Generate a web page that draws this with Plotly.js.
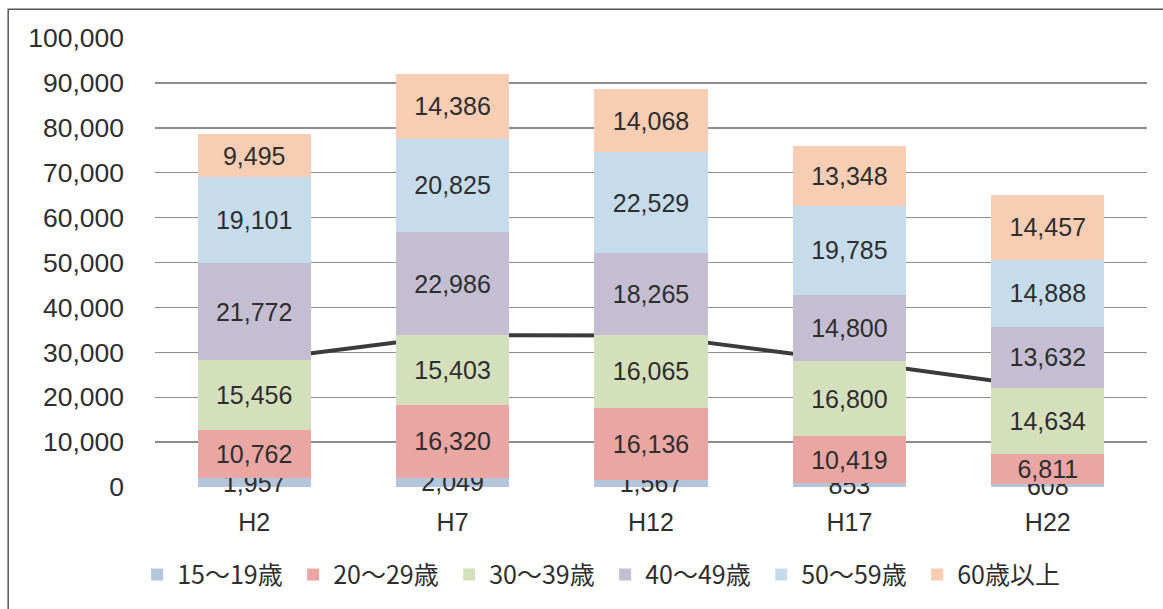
<!DOCTYPE html>
<html>
<head>
<meta charset="utf-8">
<script src="https://cdn.plot.ly/plotly-3.0.1.min.js"></script>
<style>html,body{margin:0;padding:0;background:#fff;}#chart{width:1163px;height:609px;}</style>
</head>
<body>
<div id="chart"></div>
<script>
const categories = ["H2", "H7", "H12", "H17", "H22"];
const seriesNames = ["15～19歳", "20～29歳", "30～39歳", "40～49歳", "50～59歳", "60歳以上"];
const age15_19 = [1957, 2049, 1567, 853, 608];
const age20_29 = [10762, 16320, 16136, 10419, 6811];
const age30_39 = [15456, 15403, 16065, 16800, 14634];
const age40_49 = [21772, 22986, 18265, 14800, 13632];
const age50_59 = [19101, 20825, 22529, 19785, 14888];
const age60up = [9495, 14386, 14068, 13348, 14457];
const seriesColors = ["#b3c6dc", "#e9a6a3", "#d4dfbb", "#c5bdd1", "#c6dcea", "#f7cdb4"];
const yTickVals = [0, 10000, 20000, 30000, 40000, 50000, 60000, 70000, 80000, 90000, 100000];

const seriesValues = [age15_19, age20_29, age30_39, age40_49, age50_59, age60up];
// cumulative 15-39 line (top of the 30-39 segment), drawn behind the bars
const under40 = categories.map((c, i) => age15_19[i] + age20_29[i] + age30_39[i]);

const labelFont = {family: "Liberation Sans, Arial, sans-serif", size: 25, color: "#2e2e2e"};

const traces = [{
  type: "scatter", mode: "lines", x: categories, y: under40, xaxis: "x", yaxis: "y",
  line: {color: "#3b3b3b", width: 4}, showlegend: false, hoverinfo: "skip"
}];
seriesValues.forEach((vals, k) => {
  traces.push({
    type: "bar", name: seriesNames[k], x: categories, y: vals, xaxis: "x2", yaxis: "y2",
    marker: {color: seriesColors[k], line: {width: 0}},
    texttemplate: "%{y:,}", textposition: "inside", insidetextanchor: "middle",
    constraintext: "none", textangle: 0, cliponaxis: false,
    textfont: labelFont, insidetextfont: labelFont, outsidetextfont: labelFont
  });
});

const layout = {
  width: 1163, height: 609,
  margin: {l: 155, r: 16, t: 38, b: 121},
  paper_bgcolor: "#ffffff", plot_bgcolor: "#ffffff",
  barmode: "stack", bargap: 0.43,
  font: {family: "Liberation Sans, Arial, sans-serif", color: "#2e2e2e"},
  xaxis: {
    type: "category", categoryarray: categories, showgrid: false, zeroline: false, showline: false, ticks: "",
    tickfont: {size: 25, color: "#2e2e2e"}, ticklabelstandoff: 18
  },
  yaxis: {
    range: [0, 100000], tickvals: yTickVals, tickformat: ",", showgrid: true,
    gridcolor: "#8c8c8c", gridwidth: 1.4, zeroline: false, showline: false, ticks: "",
    tickfont: {size: 26.5, color: "#2e2e2e"}, ticklabelstandoff: 30
  },
  xaxis2: {
    type: "category", categoryarray: categories, overlaying: "x", matches: "x",
    visible: false, showgrid: false, zeroline: false
  },
  yaxis2: {
    range: [0, 100000], overlaying: "y", visible: false, showgrid: false, zeroline: false
  },
  legend: {
    orientation: "h", traceorder: "normal", x: -0.018, xanchor: "left", y: -0.193, yanchor: "middle",
    font: {family: "Noto Sans CJK JP, sans-serif", size: 25, color: "#2e2e2e"},
    itemwidth: 30, entrywidth: 111, entrywidthmode: "pixels"
  },
  shapes: [{
    type: "rect", xref: "paper", yref: "paper",
    x0: -0.148, x1: 1.05, y0: -0.3, y1: 1.064,
    line: {color: "#555555", width: 1.5}, fillcolor: "rgba(0,0,0,0)"
  }],
  showlegend: true
};

Plotly.newPlot("chart", traces, layout, {displayModeBar: false, staticPlot: true});
</script>
</body>
</html>
